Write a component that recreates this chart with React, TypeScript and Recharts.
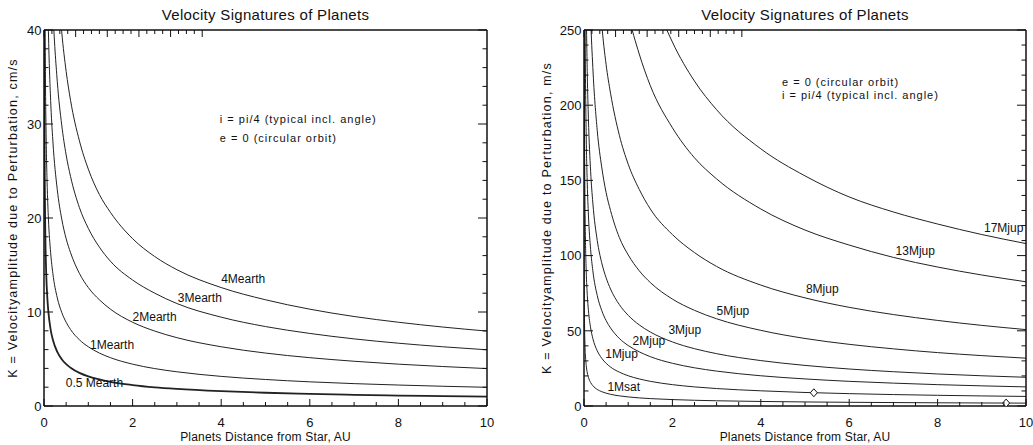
import React from 'react';
import { ComposedChart, Line, Scatter, XAxis, YAxis, ReferenceDot, Label } from 'recharts';

// orbital distance in AU, shared by every curve
const distances = [0.0005, 0.002, 0.005, 0.01, 0.02, 0.03, 0.05, 0.075, 0.1, 0.15, 0.2, 0.3, 0.4, 0.5, 0.6, 0.8, 1, 1.25, 1.5, 2, 2.5, 3, 4, 5, 6, 7, 8, 9, 10];

// K in cm/s for Earth-mass planets
const earthHalf = [141, 70.4, 44.5, 31.5, 22.3, 18.2, 14.1, 11.5, 9.96, 8.13, 7.04, 5.75, 4.98, 4.45, 4.07, 3.52, 3.15, 2.82, 2.57, 2.23, 1.99, 1.82, 1.58, 1.41, 1.29, 1.19, 1.11, 1.05, 1.0];
const earth1 = [282, 141, 89.1, 63, 44.5, 36.4, 28.2, 23.0, 19.9, 16.3, 14.1, 11.5, 9.96, 8.91, 8.13, 7.04, 6.3, 5.63, 5.14, 4.45, 3.98, 3.64, 3.15, 2.82, 2.57, 2.38, 2.23, 2.1, 1.99];
const earth2 = [563, 282, 178, 126, 89.1, 72.7, 56.3, 46.0, 39.8, 32.5, 28.2, 23.0, 19.9, 17.8, 16.3, 14.1, 12.6, 11.3, 10.3, 8.91, 7.97, 7.27, 6.3, 5.63, 5.14, 4.76, 4.45, 4.2, 3.98];
const earth3 = [845, 423, 267, 189, 134, 109, 84.5, 69.0, 59.8, 48.8, 42.3, 34.5, 29.9, 26.7, 24.4, 21.1, 18.9, 16.9, 15.4, 13.4, 12.0, 10.9, 9.45, 8.45, 7.72, 7.14, 6.68, 6.3, 5.98];
const earth4 = [1127, 563, 356, 252, 178, 145, 113, 92.0, 79.7, 65.1, 56.3, 46.0, 39.8, 35.6, 32.5, 28.2, 25.2, 22.5, 20.6, 17.8, 15.9, 14.5, 12.6, 11.3, 10.3, 9.52, 8.91, 8.4, 7.97];

// K in m/s for Saturn / Jupiter-mass planets
const saturn1 = [270, 135, 85.3, 60.3, 42.6, 34.8, 27.0, 22.0, 19.1, 15.6, 13.5, 11.0, 9.53, 8.53, 7.78, 6.74, 6.03, 5.39, 4.92, 4.26, 3.81, 3.48, 3.02, 2.7, 2.46, 2.28, 2.13, 2.01, 1.91];
const jupiter1 = [899, 449, 284, 201, 142, 116, 89.9, 73.4, 63.6, 51.9, 44.9, 36.7, 31.8, 28.4, 25.9, 22.5, 20.1, 18.0, 16.4, 14.2, 12.7, 11.6, 10.1, 8.99, 8.21, 7.6, 7.11, 6.7, 6.36];
const jupiter2 = [1798, 899, 569, 402, 284, 232, 180, 147, 127, 104, 89.9, 73.4, 63.6, 56.8, 51.9, 44.9, 40.2, 36.0, 32.8, 28.4, 25.4, 23.2, 20.1, 18.0, 16.4, 15.2, 14.2, 13.4, 12.7];
const jupiter3 = [2697, 1348, 853, 603, 426, 348, 270, 220, 191, 156, 135, 110, 95.3, 85.3, 77.8, 67.4, 60.3, 53.9, 49.2, 42.6, 38.1, 34.8, 30.2, 27.0, 24.6, 22.8, 21.3, 20.1, 19.1];
const jupiter5 = [4494, 2247, 1421, 1005, 711, 580, 449, 367, 318, 259, 225, 183, 159, 142, 130, 112, 100.5, 89.9, 82.1, 71.1, 63.6, 58.0, 50.3, 44.9, 41.0, 38.0, 35.5, 33.5, 31.8];
const jupiter8 = [7191, 3596, 2274, 1608, 1137, 928, 719, 587, 508, 415, 360, 294, 254, 227, 208, 180, 160.8, 144, 131, 114, 102, 92.8, 80.4, 71.9, 65.6, 60.8, 56.9, 53.6, 50.8];
const jupiter13 = [11686, 5843, 3695, 2613, 1848, 1509, 1169, 954, 826, 675, 584, 477, 413, 370, 337, 292, 261, 234, 213, 185, 165, 151, 131, 117, 107, 98.8, 92.4, 87.1, 82.6];
const jupiter17 = [15281, 7641, 4832, 3417, 2416, 1973, 1528, 1248, 1081, 882, 764, 624, 540, 483, 441, 382, 342, 306, 279, 242, 216, 197, 171, 153, 139, 129, 121, 114, 108];

// Jupiter (5.2 AU) and Saturn (9.55 AU)
const solarPlanets = [
  { a: 5.2, k: 8.8 },
  { a: 9.55, k: 1.95 },
];

const xTicks = [0, 2, 4, 6, 8, 10];
const xMinorTicks = [0, 0.5, 1, 1.5, 2, 2.5, 3, 3.5, 4, 4.5, 5, 5.5, 6, 6.5, 7, 7.5, 8, 8.5, 9, 9.5, 10];
const cmTicks = [0, 10, 20, 30, 40];
const cmMinorTicks = [0, 2, 4, 6, 8, 10, 12, 14, 16, 18, 20, 22, 24, 26, 28, 30, 32, 34, 36, 38, 40];
const msTicks = [0, 50, 100, 150, 200, 250];
const msMinorTicks = [0, 10, 20, 30, 40, 50, 60, 70, 80, 90, 100, 110, 120, 130, 140, 150, 160, 170, 180, 190, 200, 210, 220, 230, 240, 250];

// curve names, anchored where they are written
const earthLabels = [
  { text: '4Mearth', a: 4.0, k: 13.1 },
  { text: '3Mearth', a: 3.02, k: 11.1 },
  { text: '2Mearth', a: 2.0, k: 9.0 },
  { text: '1Mearth', a: 1.04, k: 6.1 },
  { text: '0.5 Mearth', a: 0.49, k: 2.0 },
];
const jupiterLabels = [
  { text: '1Msat', a: 0.53, k: 10 },
  { text: '1Mjup', a: 0.48, k: 31.8 },
  { text: '2Mjup', a: 1.1, k: 40.4 },
  { text: '3Mjup', a: 1.91, k: 48 },
  { text: '5Mjup', a: 3.0, k: 60.2 },
  { text: '8Mjup', a: 5.02, k: 75 },
  { text: '13Mjup', a: 7.05, k: 100.7 },
  { text: '17Mjup', a: 9.05, k: 115.5 },
];
const earthNotes = [
  { text: 'i = pi/4 (typical incl. angle)', a: 3.97, k: 30.1 },
  { text: 'e = 0 (circular orbit)', a: 3.97, k: 28.1 },
];
const jupiterNotes = [
  { text: 'e = 0 (circular orbit)', a: 4.48, k: 212.6 },
  { text: 'i = pi/4 (typical incl. angle)', a: 4.48, k: 203.8 },
];

type Series = { key: string; values: number[]; width: number };
type Note = { text: string; a: number; k: number };
type Side = 'bottom' | 'top' | 'left' | 'right';

const INK = '#111';

const earthSeries: Series[] = [
  { key: 'm05', values: earthHalf, width: 1.8 },
  { key: 'm1', values: earth1, width: 1 },
  { key: 'm2', values: earth2, width: 1 },
  { key: 'm3', values: earth3, width: 1 },
  { key: 'm4', values: earth4, width: 1 },
];
const jupiterSeries: Series[] = [
  { key: 's1', values: saturn1, width: 1 },
  { key: 'j1', values: jupiter1, width: 1 },
  { key: 'j2', values: jupiter2, width: 1 },
  { key: 'j3', values: jupiter3, width: 1 },
  { key: 'j5', values: jupiter5, width: 1 },
  { key: 'j8', values: jupiter8, width: 1 },
  { key: 'j13', values: jupiter13, width: 1 },
  { key: 'j17', values: jupiter17, width: 1 },
];

const textAt = (text: string, size = 12, spacing = 0) => (p: any) => (
  <text x={p.cx} y={p.cy} fontSize={size} fill={INK} letterSpacing={spacing}>{text}</text>
);

const diamond = (p: any) => (
  <path
    d={`M${p.cx},${p.cy - 4}L${p.cx + 3.5},${p.cy}L${p.cx},${p.cy + 4}L${p.cx - 3.5},${p.cy}Z`}
    fill="#fff"
    stroke={INK}
    strokeWidth={1}
  />
);

// inward IDL-style ticks: long on majors (with a number on bottom/left), short on minors
const frameTick = (side: Side, majors: number[], majorLen: number, minorLen: number) => (p: any) => {
  const v = p.payload.value;
  const major = majors.includes(v);
  const len = major ? majorLen : minorLen;
  const { x, y } = p;
  if (side === 'bottom') {
    return (
      <g>
        <line x1={x} x2={x} y1={y} y2={y - len} stroke={INK} />
        {major && <text x={x} y={y + 20.5} textAnchor="middle" fontSize={13} fill={INK}>{v}</text>}
      </g>
    );
  }
  if (side === 'top') return <line x1={x} x2={x} y1={y} y2={y + len} stroke={INK} />;
  if (side === 'left') {
    return (
      <g>
        <line x1={x} x2={x + len} y1={y} y2={y} stroke={INK} />
        {major && <text x={x - 2.5} y={y + 4.7} textAnchor="end" fontSize={13} fill={INK}>{v}</text>}
      </g>
    );
  }
  return <line x1={x} x2={x - len} y1={y} y2={y} stroke={INK} />;
};

interface PanelProps {
  left: number;
  width: number;
  margin: { top: number; left: number; right: number; bottom: number };
  labelOffset: number;
  series: Series[];
  yMax: number;
  yTicks: number[];
  yMinor: number[];
  unit: string;
  labels: Note[];
  notes: Note[];
  markers?: { a: number; k: number }[];
}

function Panel({ left, width, margin, labelOffset, series, yMax, yTicks, yMinor, unit, labels, notes, markers }: PanelProps) {
  const rows = distances.map((a, i) => {
    const row: Record<string, number> = { a };
    series.forEach((s) => { row[s.key] = s.values[i]; });
    return row;
  });
  const axisStroke = { stroke: INK, strokeWidth: 1.5 };
  const plotLeft = margin.left + 40;
  const plotRight = width - margin.right - 1;

  return (
    <div style={{ position: 'absolute', left, top: 0, width, height: 445 }}>
      <div
        style={{
          position: 'absolute', top: 6, left: plotLeft, width: plotRight - plotLeft,
          textAlign: 'center', fontSize: 15, letterSpacing: 0.3, color: INK,
        }}
      >
        Velocity Signatures of Planets
      </div>
      <ComposedChart width={width} height={445} data={rows} margin={margin}>
        <XAxis
          dataKey="a" type="number" domain={[0, 10]} allowDataOverflow
          ticks={xMinorTicks} interval={0} height={30} tickSize={0} tickMargin={0}
          axisLine={axisStroke} tickLine={false} tick={frameTick('bottom', xTicks, 7, 4)}
        >
          <Label
            value="Planets Distance from Star, AU" position="bottom" offset={-4}
            fill={INK} fontSize={12} letterSpacing={0.2}
          />
        </XAxis>
        <XAxis
          xAxisId="t" orientation="top" type="number" domain={[0, 10]} allowDataOverflow
          ticks={xMinorTicks} interval={0} height={1} tickSize={0} tickMargin={0}
          axisLine={axisStroke} tickLine={false} tick={frameTick('top', xTicks, 7, 4)}
        />
        <YAxis
          type="number" domain={[0, yMax]} allowDataOverflow ticks={yMinor} interval={0}
          width={40} tickSize={0} tickMargin={0} axisLine={axisStroke} tickLine={false}
          tick={frameTick('left', yTicks, 9, 4.5)}
        >
          <Label
            value={`K = Velocityamplitude due to Perturbation,    ${unit}`}
            angle={-90} position="insideLeft" offset={labelOffset}
            fill={INK} fontSize={12.5} letterSpacing={1.2} style={{ textAnchor: 'middle' }}
          />
        </YAxis>
        <YAxis
          yAxisId="r" orientation="right" type="number" domain={[0, yMax]} allowDataOverflow
          ticks={yMinor} interval={0} width={1} tickSize={0} tickMargin={0}
          axisLine={axisStroke} tickLine={false} tick={frameTick('right', yTicks, 9, 4.5)}
        />

        {series.map((s) => (
          <Line
            key={s.key} dataKey={s.key} type="monotone" stroke="#222" strokeWidth={s.width}
            dot={false} activeDot={false} isAnimationActive={false}
          />
        ))}

        {markers && (
          <Scatter data={markers} dataKey="k" shape={diamond} isAnimationActive={false} />
        )}

        {labels.map((n) => (
          <ReferenceDot key={n.text} x={n.a} y={n.k} r={0} shape={textAt(n.text)} />
        ))}
        {notes.map((n) => (
          <ReferenceDot key={n.text} x={n.a} y={n.k} r={0} shape={textAt(n.text, 11, 1.0)} />
        ))}
      </ComposedChart>
    </div>
  );
}

export default function App() {
  return (
    <div
      style={{
        position: 'absolute', left: 0, top: 0, width: 1033, height: 445,
        background: '#fff', fontFamily: "'Liberation Sans', Arial, sans-serif",
      }}
    >
      <Panel
        left={0} width={520} margin={{ top: 29, left: 4, right: 32, bottom: 9 }} labelOffset={9}
        series={earthSeries} yMax={40} yTicks={cmTicks} yMinor={cmMinorTicks} unit="cm/s"
        labels={earthLabels} notes={earthNotes}
      />
      <Panel
        left={520} width={513} margin={{ top: 29, left: 24, right: 6, bottom: 9 }} labelOffset={3}
        series={jupiterSeries} yMax={250} yTicks={msTicks} yMinor={msMinorTicks} unit="m/s"
        labels={jupiterLabels} notes={jupiterNotes} markers={solarPlanets}
      />
    </div>
  );
}
